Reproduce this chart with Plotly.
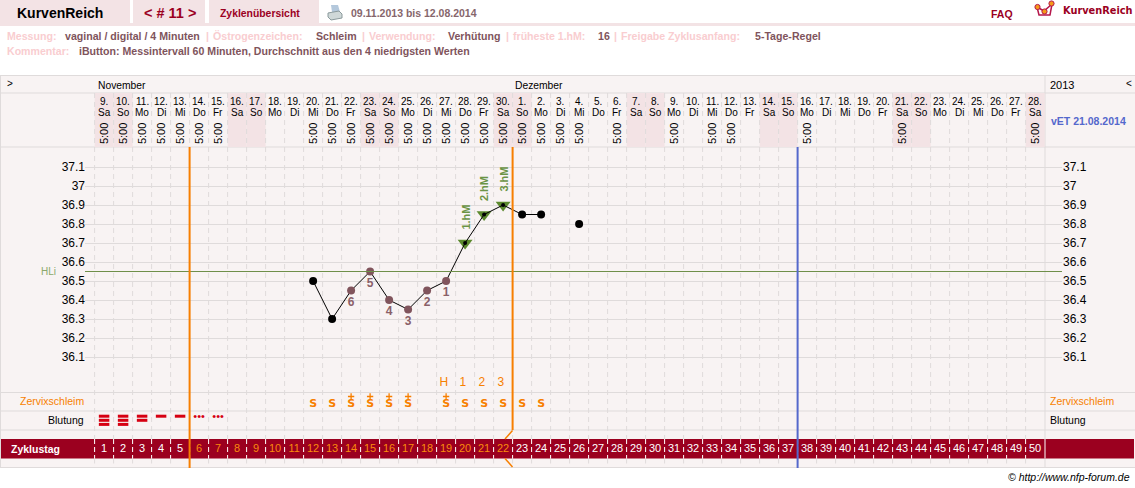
import plotly.graph_objects as go

W, H = 1135, 488

# --- chart data -------------------------------------------------------------
date_numbers = list(range(9, 31)) + list(range(1, 29))
weekdays = ["Sa", "So", "Mo", "Di", "Mi", "Do", "Fr"] * 7 + ["Sa"]
cycle_days = list(range(1, 51))

measured_days = [1, 2, 3, 4, 5, 6, 7, 12, 13, 14, 15, 16, 17, 18, 19, 20, 21, 22,
                 23, 24, 25, 26, 28, 31, 33, 34, 38, 43, 50]

plain_days = [12, 13, 23, 24]
plain_temps = [36.5, 36.3, 36.85, 36.85]
lone_day = [26]
lone_temp = [36.8]
low_days = [14, 15, 16, 17, 18, 19]
low_temps = [36.45, 36.55, 36.4, 36.35, 36.45, 36.5]
low_labels = ["6", "5", "4", "3", "2", "1"]
high_days = [20, 21, 22]
high_temps = [36.7, 36.85, 36.9]
high_labels = ["1.hM", "2.hM", "3.hM"]
curve_days = [12, 13, 14, 15, 16, 17, 18, 19, 20, 21, 22, 23, 24]
curve_temps = [36.5, 36.3, 36.45, 36.55, 36.4, 36.35, 36.45, 36.5, 36.7, 36.85, 36.9, 36.85, 36.85]
cover_line = 36.55

temp_ticks = [37.1, 37.0, 36.9, 36.8, 36.7, 36.6, 36.5, 36.4, 36.3, 36.2, 36.1]
temp_tick_labels = ["37.1", "37", "36.9", "36.8", "36.7", "36.6", "36.5", "36.4", "36.3", "36.2", "36.1"]

peak_days = [19, 20, 21, 22]
peak_labels = ["H", "1", "2", "3"]
mucus_days = [12, 13, 14, 15, 16, 17, 19, 20, 21, 22, 23, 24]
mucus_plus_days = [14, 15, 16, 17, 19]
bleed_days = [1, 2, 3, 4, 5]
bleed_stripes = [3, 3, 2, 1, 1]
spotting_days = [6, 7]
first_phase_end = 5.5
second_phase_start = 22.5
expected_end = 37.5

# --- colours ----------------------------------------------------------------
PANEL = "#f8f3f3"
PINK = "#f3e3e5"
RULE = "#dfdbdb"
MAROON = "#9b001f"
ORANGE = "#f77f00"
BLUE = "#5468cc"
GREEN = "#5c8a2e"
GREEN_TEXT = "#6b9445"
MUTED = "#80545c"
PALE = "#f9cdd0"
FONT = "Liberation Sans"

# --- page geometry ----------------------------------------------------------
LEFT, RIGHT = 85.0, 1062.0      # extent of the horizontal rules
COL0, COLW = 94.6, 19.0         # left edge of the first day, day width
TOP, BOT = 147.0, 392.5         # temperature area
PX_T0, PX_PER_DEG = 167.0, 190.0  # 37.1 sits at y=167


def px(x):
    return x / W


def py(y):
    return 1 - y / H


def day_of(x):
    return 0.5 + (x - COL0) / COLW


x_range = [day_of(LEFT), day_of(RIGHT)]
t_range = [37.1 - (BOT - PX_T0) / PX_PER_DEG, 37.1 + (PX_T0 - TOP) / PX_PER_DEG]

shapes, notes = [], []


def rect(x0, y0, x1, y1, fill):
    shapes.append(dict(type="rect", xref="paper", yref="paper", x0=px(x0), x1=px(x1),
                       y0=py(y1), y1=py(y0), fillcolor=fill, line_width=0, layer="below"))


def rule(x0, y0, x1, y1, color=RULE, width=1, layer="below"):
    shapes.append(dict(type="line", xref="paper", yref="paper", x0=px(x0), x1=px(x1),
                       y0=py(y0), y1=py(y1), line=dict(color=color, width=width), layer=layer))


def day_rule(day, y0, y1, color, width=1, dash="solid", layer="below"):
    shapes.append(dict(type="line", xref="x", yref="paper", x0=day, x1=day, y0=py(y0), y1=py(y1),
                       line=dict(color=color, width=width, dash=dash), layer=layer))


def note(x, y, text, size=11, color="#000", bold=False, anchor="left", italic=False, family=FONT):
    if bold:
        text = f"<b>{text}</b>"
    if italic:
        text = f"<i>{text}</i>"
    notes.append(dict(xref="paper", yref="paper", x=px(x), y=py(y), text=text, showarrow=False,
                      xanchor=anchor, yanchor="middle", borderpad=0,
                      font=dict(family=family, size=size, color=color)))


def outline(points):
    return "M " + " L ".join(f"{px(x)} {py(y)}" for x, y in points)


# --- page header ------------------------------------------------------------
rect(0, 0, 130, 23, PINK)
rect(133, 0, 205, 23, PINK)
rect(209, 0, 319, 23, PINK)
rect(0, 23, W, 26, PINK)
note(16, 13, "KurvenReich", 14, "#000", True)
note(143, 13, "&lt; # 11 &gt;", 14.5, MAROON, True)
note(219, 13, "Zyklenübersicht", 10.4, MAROON, True)
note(350, 12.5, "09.11.2013 bis 12.08.2014", 10.5, "#86666c", True)
note(990, 14.5, "FAQ", 10.5, MAROON, True)
note(1062, 10.5, "KurvenReich", 9.8, MAROON, True, family="DejaVu Sans")

# printer icon
shapes.append(dict(type="path", xref="paper", yref="paper", layer="below", line_width=0, fillcolor="#b4c8dc",
                   path=outline([(331, 5), (338, 5), (340, 12), (332, 12)]) + " Z"))
shapes.append(dict(type="path", xref="paper", yref="paper", layer="below", line=dict(color="#8b9a9c", width=1),
                   fillcolor="#cfd8d8",
                   path=outline([(328, 13), (339, 11), (342, 14), (342, 18), (331, 20), (328, 17)]) + " Z"))

# logo mark
shapes.append(dict(type="path", xref="paper", yref="paper", layer="below", fillcolor="rgba(0,0,0,0)",
                   line=dict(color="#b5174b", width=1.5),
                   path=outline([(1037, 7), (1039, 15), (1050, 15), (1052, 4)]) + " "
                        + outline([(1037, 7), (1044, 11), (1052, 4)])))
for cx, cy, r in [(1037.5, 7, 2.6), (1044.5, 11.5, 2.6), (1051.5, 3.5, 2.6)]:
    shapes.append(dict(type="circle", xref="paper", yref="paper", layer="below",
                       x0=px(cx - r), x1=px(cx + r), y0=py(cy + r), y1=py(cy - r),
                       fillcolor="#f59a18", line=dict(color="#b5174b", width=1)))

# measurement summary lines
for x, text, tone in [
    (6, "Messung:", PALE), (64, "vaginal / digital / 4 Minuten", MUTED), (205, "|", PALE),
    (212, "Östrogenzeichen:", PALE), (315, "Schleim", MUTED), (361, "|", PALE),
    (368, "Verwendung:", PALE), (447, "Verhütung", MUTED), (505, "|", PALE),
    (512, "früheste 1.hM:", PALE), (597, "16", MUTED), (613, "|", PALE),
    (620, "Freigabe Zyklusanfang:", PALE), (754, "5-Tage-Regel", MUTED),
]:
    note(x, 36, text, 10.6, tone, True)
note(6, 51, "Kommentar:", 10.6, PALE, True)
note(78, 51, "iButton: Messintervall 60 Minuten, Durchschnitt aus den 4 niedrigsten Werten", 10.6, MUTED, True)

# --- chart panel ------------------------------------------------------------
rect(1, 76, W, 468, PANEL)
for y in (75.5, 93, 147, 392.5, 411, 430, 467.5):
    rule(0, y, W, y)
rule(0.5, 75.5, 0.5, 467.5)
rule(1045, 75.5, 1045, 467.5)

# weekend shading in the date header
for day, wd in zip(cycle_days, weekdays):
    if wd in ("Sa", "So"):
        shapes.append(dict(type="rect", xref="x", yref="paper", x0=day - 0.5, x1=day + 0.5,
                           y0=py(147), y1=py(93), fillcolor=PINK, line_width=0, layer="below"))

# day separators
rect(1, 439, 1134, 458.5, MAROON)
for d in range(50):
    edge = d + 0.5
    day_rule(edge, 93, 439, RULE, 1, "5px,4px")
    day_rule(edge, 458.5, 467, RULE, 1, "5px,4px")
    day_rule(edge, 439, 458.5, "#ffffff", 1, "5px,3px", "above")
rule(1045, 439, 1045, 458.5, "#ffffff")

# phase boundaries
day_rule(first_phase_end, 147, 468, ORANGE, 2, layer="above")
day_rule(second_phase_start, 147, 430, ORANGE, 2, layer="above")
day_rule(expected_end, 147, 468, BLUE, 2, layer="above")
rule(512.5, 430.5, 505, 439, ORANGE, 1.5, "above")
rule(505, 458.5, 512.5, 467, ORANGE, 1.5, "above")

# header text
note(6, 83, "&gt;", 10, "#000")
note(97, 85, "November", 10.3, "#000")
note(514, 85, "Dezember", 10.3, "#000")
note(1049, 85, "2013", 11, "#000")
note(1125, 83, "&lt;", 10, "#000")
note(1050, 121, "vET 21.08.2014", 10.5, BLUE, True)
note(40, 271, "HLi", 10, "#8aa86a")
note(85, 401, "Zervixschleim", 10.5, ORANGE, anchor="right")
note(85, 420, "Blutung", 10.5, "#000", anchor="right")
note(1049, 401, "Zervixschleim", 10.5, ORANGE)
note(1049, 420, "Blutung", 10.5, "#000")
note(10, 449, "Zyklustag", 10.5, "#ffffff", True)
note(1131, 477, "© http://www.nfp-forum.de", 10.5, "#000", anchor="right", italic=True)

# date numbers, weekdays and measuring times per column
for day, num, wd in zip(cycle_days, date_numbers, weekdays):
    for y, text in ((101.5, f"{num}."), (112, wd)):
        notes.append(dict(xref="x", yref="paper", x=day, y=py(y), text=text, showarrow=False,
                          xanchor="center", yanchor="middle", borderpad=0,
                          font=dict(family=FONT, size=10, color="#000")))
for day in measured_days:
    notes.append(dict(xref="x", yref="paper", x=day, y=py(134), text="5:00", textangle=-90, showarrow=False,
                      xanchor="center", yanchor="middle", borderpad=0,
                      font=dict(family=FONT, size=11, color="#000")))

# rotated labels over the higher readings
for day, temp, text in zip(high_days, high_temps, high_labels):
    notes.append(dict(xref="x", yref="y", x=day, y=temp, text=f"<b>{text}</b>", textangle=-90, showarrow=False,
                      xanchor="center", yanchor="bottom", yshift=12, borderpad=0,
                      font=dict(family=FONT, size=11, color=GREEN_TEXT)))

# --- traces -----------------------------------------------------------------
fig = go.Figure()

fig.add_trace(go.Scatter(x=[x_range[0], x_range[1]], y=[cover_line, cover_line], mode="lines", yaxis="y2",
                         line=dict(color="#6f8f4a", width=1), hoverinfo="skip", showlegend=False))
fig.add_trace(go.Scatter(x=high_days, y=high_temps, mode="markers", cliponaxis=False,
                         marker=dict(symbol="triangle-down", size=13, color=GREEN), showlegend=False))
fig.add_trace(go.Scatter(x=curve_days, y=curve_temps, mode="lines", line=dict(color="#000", width=1),
                         showlegend=False))
fig.add_trace(go.Scatter(x=plain_days + lone_day, y=plain_temps + lone_temp, mode="markers",
                         marker=dict(size=8, color="#000"), showlegend=False))
fig.add_trace(go.Scatter(x=low_days, y=low_temps, mode="markers+text", text=[f"<b>{t}</b>" for t in low_labels],
                         textposition="bottom center",
                         textfont=dict(family=FONT, size=12, color="#8a6068"),
                         marker=dict(size=8, color="#80545c"), showlegend=False))
fig.add_trace(go.Scatter(x=high_days, y=high_temps, mode="markers", marker=dict(size=4, color="#000"),
                         showlegend=False))

# rows below the curve are placed on a page-height axis
ROW = dict(yaxis="y3", cliponaxis=False, showlegend=False, hoverinfo="skip")
fig.add_trace(go.Scatter(x=[d - 0.12 for d in peak_days], y=[383] * len(peak_days), mode="text", text=peak_labels,
                         textfont=dict(family=FONT, size=12, color=ORANGE), **ROW))
fig.add_trace(go.Scatter(x=mucus_days, y=[404.5] * len(mucus_days), mode="text",
                         text=["<b>S</b>"] * len(mucus_days),
                         textfont=dict(family="DejaVu Sans", size=11, color=ORANGE), **ROW))
fig.add_trace(go.Scatter(x=mucus_plus_days, y=[396.5] * len(mucus_plus_days), mode="markers",
                         marker=dict(symbol="cross-thin", size=4.5, line=dict(color=ORANGE, width=1.3)), **ROW))

stripe_x, stripe_y = [], []
for day, count in zip(bleed_days, bleed_stripes):
    for i in range(count):
        stripe_x.append(day)
        stripe_y.append(416.2 + 4.1 * i)
fig.add_trace(go.Scatter(x=stripe_x, y=stripe_y, mode="markers",
                         marker=dict(symbol="line-ew", size=7.5, line=dict(color="#d60012", width=3)), **ROW))
fig.add_trace(go.Scatter(x=spotting_days, y=[417.5] * len(spotting_days), mode="text",
                         text=["•••"] * len(spotting_days),
                         textfont=dict(family=FONT, size=11, color="#d60012"), **ROW))

for start, stop, tone in [(1, 5, "#ffffff"), (6, 22, "#f98a0c"), (23, 50, "#ffffff")]:
    span = [d for d in cycle_days if start <= d <= stop]
    fig.add_trace(go.Scatter(x=span, y=[449] * len(span), mode="text", text=[str(d) for d in span],
                             textfont=dict(family=FONT, size=11, color=tone), **ROW))

# --- axes -------------------------------------------------------------------
t_axis = dict(domain=[py(BOT), py(TOP)], range=t_range, tickmode="array", tickvals=temp_ticks,
              ticktext=temp_tick_labels, ticks="", showline=False, zeroline=False,
              tickfont=dict(family=FONT, size=12, color="#000"))

fig.update_layout(
    width=W, height=H, margin=dict(l=0, r=0, t=0, b=0), autosize=False,
    paper_bgcolor="#ffffff", plot_bgcolor="rgba(0,0,0,0)", showlegend=False, hovermode=False,
    xaxis=dict(domain=[px(LEFT), px(RIGHT)], range=x_range, visible=False, fixedrange=True, anchor="y"),
    yaxis=dict(**t_axis, anchor="free", position=px(LEFT), side="left", showgrid=True, gridcolor=RULE,
               gridwidth=1, fixedrange=True),
    yaxis2=dict(**t_axis, anchor="free", position=px(RIGHT), side="right", overlaying="y", showgrid=False,
                fixedrange=True),
    yaxis3=dict(domain=[0, 1], range=[H, 0], visible=False, anchor="x", fixedrange=True),
    shapes=shapes, annotations=notes,
)

fig.write_html("out.html")
